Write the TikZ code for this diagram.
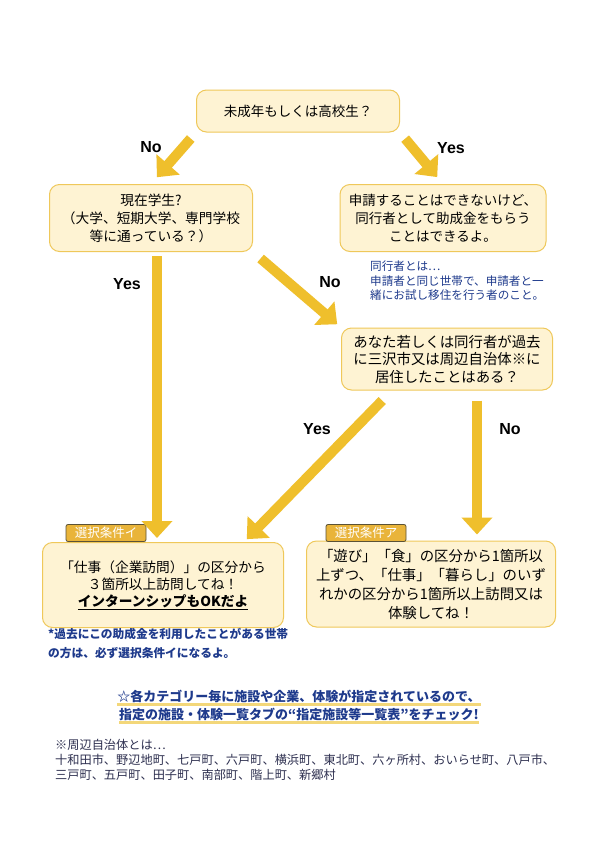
\documentclass[tikz,border=0pt]{standalone}
\usepackage{fontspec}
\setmainfont{Noto Sans CJK JP}
\newfontfamily\labfont{Liberation Sans}
\usetikzlibrary{arrows.meta}
\definecolor{boxfill}{HTML}{FEF3D3}
\definecolor{boxline}{HTML}{EFC85A}
\definecolor{arrowc}{HTML}{EFBF2C}
\definecolor{navy}{HTML}{1E3A8C}
\definecolor{tagfill}{HTML}{E9B43A}
\definecolor{tagline}{HTML}{5B5236}
\definecolor{listc}{HTML}{2E3050}
\definecolor{hilite}{HTML}{F3D77A}
\begin{document}
\begin{tikzpicture}[x=1pt,y=-1pt,
  qbox/.style={draw=boxline, line width=1pt, fill=boxfill, rounded corners=10pt,
    align=center, font=\fontsize{13.5}{18}\selectfont, inner sep=0pt},
  bigarrow/.style={draw=arrowc, line width=10pt, arrowc,
    -{Triangle[width=30pt,length=17pt]}},
  yn/.style={font=\labfont\bfseries\fontsize{16}{18}\selectfont, text=black, inner sep=0pt},
  tagbox/.style={fill=tagfill, draw=tagline, line width=0.8pt, rounded corners=2pt,
    minimum width=80pt, minimum height=17pt, inner sep=0pt, text=white,
    font=\fontsize{12.5}{13}\selectfont},
  note/.style={align=left, inner sep=0pt, anchor=north west}
]
\useasboundingbox (0,0) rectangle (595,841);
\fill[white] (0,0) rectangle (595,841);

% boxes
\node[qbox, minimum width=203pt, minimum height=42pt] (b1) at (298,111) {未成年もしくは高校生？};
\node[qbox, minimum width=203pt, minimum height=67pt, font=\fontsize{13.7}{18}\selectfont] (b2) at (151,218)
  {現在学生?\\（大学、短期大学、専門学校\\等に通っている？）};
\node[qbox, minimum width=206pt, minimum height=67pt] (b3) at (443,218)
  {申請することはできないけど、\\同行者として助成金をもらう\\ことはできるよ。};
\node[qbox, minimum width=211pt, minimum height=62pt, font=\fontsize{14.4}{17.5}\selectfont] (b4) at (447,359)
  {あなた若しくは同行者が過去\\に三沢市又は周辺自治体※に\\居住したことはある？};
\node[qbox, minimum width=241pt, minimum height=85pt, font=\fontsize{13.7}{17}\selectfont] (b5) at (163,585)
  {「仕事（企業訪問）」の区分から\\３箇所以上訪問してね！\\\underline{\bfseries インターンシップもOKだよ}};
\node[qbox, minimum width=249pt, minimum height=86pt, font=\fontsize{14.4}{19}\selectfont] (b6) at (431,584)
  {「遊び」「食」の区分から1箇所以\\上ずつ、「仕事」「暮らし」のいず\\れかの区分から1箇所以上訪問又は\\体験してね！};

% tags
\node[tagbox] (t5) at (106,533) {選択条件イ};
\node[tagbox] (t6) at (366,533) {選択条件ア};

% arrows
\draw[bigarrow, shorten <=8pt, shorten >=9pt] (b1.south west) -- (b2.north);
\draw[bigarrow, shorten <=8pt, shorten >=9pt] (b1.south east) -- (b3.north);
\draw[bigarrow, shorten <=4pt, shorten >=4pt] ([xshift=6pt]b2.south) -- ([xshift=6pt]b2.south |- b5.north);
\draw[bigarrow, shorten <=10pt, shorten >=5pt] (b2.south east) -- (b4.north west);
\draw[bigarrow, shorten <=14pt, shorten >=4pt] ([xshift=-55pt]b4.south) -- ([xshift=-40pt]b5.north east);
\draw[bigarrow, shorten <=10pt, shorten >=6pt] ([xshift=30pt]b4.south) -- ([xshift=30pt]b4.south |- b6.north);

% labels
\node[yn] (l1) at (151,147) {No};
\node[yn] (l2) at (451,148) {Yes};
\node[yn] (l3) at (127,284) {Yes};
\node[yn] (l4) at (330,282) {No};
\node[yn] (l5) at (317,429) {Yes};
\node[yn] (l6) at (510,429) {No};

% notes
\node[note, text=navy, font=\fontsize{11.6}{14.5}\selectfont] (n1) at (370,261)
  {同行者とは…\\申請者と同じ世帯で、申請者と一\\緒にお試し移住を行う者のこと。};
\node[note, text=navy, font=\bfseries\fontsize{11.7}{19}\selectfont] (n2) at (48,628)
  {*過去にこの助成金を利用したことがある世帯\\の方は、必ず選択条件イになるよ。};

\node[inner sep=0pt, text=navy, font=\bfseries\fontsize{13}{15}\selectfont] (h1) at (299,696)
  {☆各カテゴリー毎に施設や企業、体験が指定されているので、};
\node[inner sep=0pt, text=navy, font=\bfseries\fontsize{13}{15}\selectfont] (h2) at (299,714)
  {指定の施設・体験一覧タブの“指定施設等一覧表”をチェック!};
\draw[hilite, line width=2.5pt] ([yshift=-2pt]h1.south west) -- ([yshift=-2pt]h1.south east);
\draw[hilite, line width=2.5pt] ([yshift=-2pt]h2.south west) -- ([yshift=-2pt]h2.south east);

\node[note, text=listc, font=\fontsize{12.2}{15}\selectfont] (n3) at (55,739)
  {※周辺自治体とは…\\十和田市、野辺地町、七戸町、六戸町、横浜町、東北町、六ヶ所村、おいらせ町、八戸市、\\三戸町、五戸町、田子町、南部町、階上町、新郷村};
\end{tikzpicture}
\end{document}
